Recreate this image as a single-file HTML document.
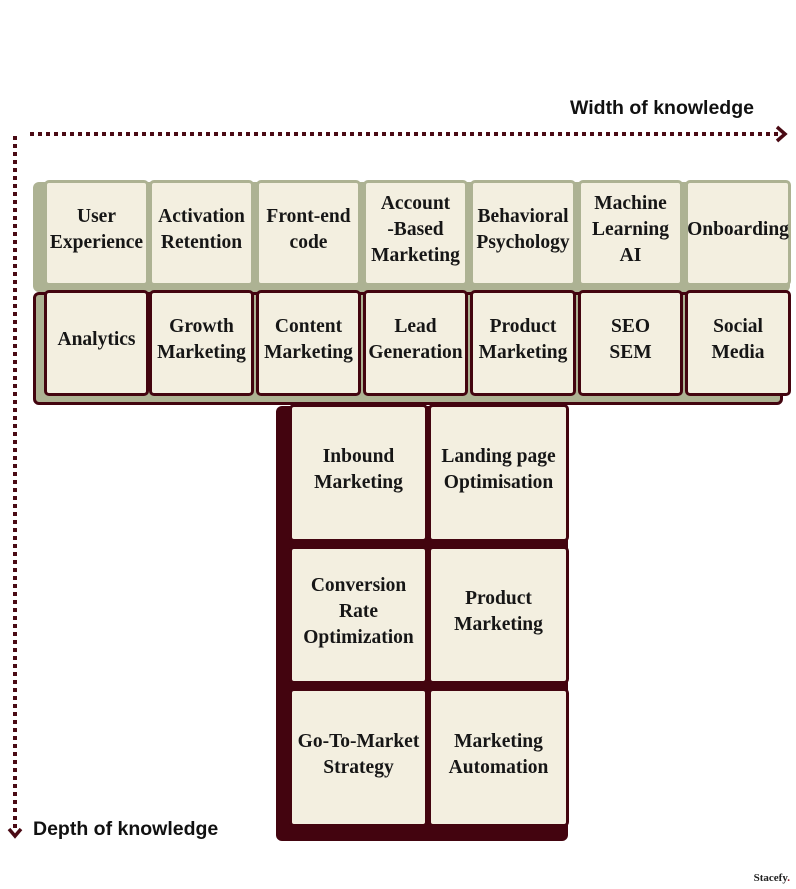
<!DOCTYPE html>
<html><head><meta charset="utf-8"><style>
body{margin:0;width:796px;height:889px;background:#fff;position:relative;overflow:hidden;font-family:"Liberation Serif",serif}
.t{position:absolute;box-sizing:border-box;background:#f3efe0;border-radius:5px;display:flex;align-items:center;justify-content:center;text-align:center;font-weight:bold;font-size:19.5px;line-height:26px;color:#161616;padding-bottom:6px;white-space:nowrap}
.g{border:3px solid #adb293}
.d{border:3px solid #43040f}
.sh{position:absolute;border-radius:6px}
.lab{position:absolute;font-family:"Liberation Sans",sans-serif;font-weight:bold;font-size:19.5px;color:#111}
</style></head><body>
<div class="lab" style="left:570px;top:97px">Width of knowledge</div>
<div class="lab" style="left:33px;top:818px">Depth of knowledge</div>
<div style="position:absolute;right:6px;top:872px;font-size:11px;font-weight:bold;color:#222">Stacefy<span style="color:#8a1020">.</span></div>
<svg style="position:absolute;left:0;top:0" width="796" height="889">
<line x1="30" y1="134" x2="782" y2="134" stroke="#4a0a14" stroke-width="4" stroke-dasharray="4 4"/>
<polyline points="777,127 785,134 777,141" fill="none" stroke="#4a0a14" stroke-width="3.5"/>
<line x1="15" y1="136" x2="15" y2="828" stroke="#4a0a14" stroke-width="4" stroke-dasharray="4 4"/>
<polyline points="9,829 15,836 21,829" fill="none" stroke="#4a0a14" stroke-width="3.5"/>
</svg>
<div class="sh" style="left:33px;top:182px;width:757px;height:110px;background:#adb293"></div>
<div class="sh" style="left:33px;top:292px;width:750px;height:113px;background:#adb293;border:3px solid #43040f;box-sizing:border-box"></div>
<div class="sh" style="left:276px;top:406px;width:292px;height:435px;background:#43040f"></div>

<div class="t g" style="left:44px;top:180px;width:105px;height:106px">User<br>Experience</div>
<div class="t g" style="left:149px;top:180px;width:105px;height:106px">Activation<br>Retention</div>
<div class="t g" style="left:256px;top:180px;width:105px;height:106px">Front-end<br>code</div>
<div class="t g" style="left:363px;top:180px;width:105px;height:106px">Account<br>-Based<br>Marketing</div>
<div class="t g" style="left:470px;top:180px;width:106px;height:106px">Behavioral<br>Psychology</div>
<div class="t g" style="left:578px;top:180px;width:105px;height:106px">Machine<br>Learning<br>AI</div>
<div class="t g" style="left:685px;top:180px;width:106px;height:106px">Onboarding</div>

<div class="t d" style="left:44px;top:290px;width:105px;height:106px">Analytics</div>
<div class="t d" style="left:149px;top:290px;width:105px;height:106px">Growth<br>Marketing</div>
<div class="t d" style="left:256px;top:290px;width:105px;height:106px">Content<br>Marketing</div>
<div class="t d" style="left:363px;top:290px;width:105px;height:106px">Lead<br>Generation</div>
<div class="t d" style="left:470px;top:290px;width:106px;height:106px">Product<br>Marketing</div>
<div class="t d" style="left:578px;top:290px;width:105px;height:106px">SEO<br>SEM</div>
<div class="t d" style="left:685px;top:290px;width:106px;height:106px">Social<br>Media</div>

<div class="t d" style="left:289px;top:404px;width:139px;height:138px">Inbound<br>Marketing</div>
<div class="t d" style="left:428px;top:404px;width:141px;height:138px">Landing page<br>Optimisation</div>
<div class="t d" style="left:289px;top:546px;width:139px;height:138px">Conversion<br>Rate<br>Optimization</div>
<div class="t d" style="left:428px;top:546px;width:141px;height:138px">Product<br>Marketing</div>
<div class="t d" style="left:289px;top:688px;width:139px;height:139px">Go-To-Market<br>Strategy</div>
<div class="t d" style="left:428px;top:688px;width:141px;height:139px">Marketing<br>Automation</div>
</body></html>
